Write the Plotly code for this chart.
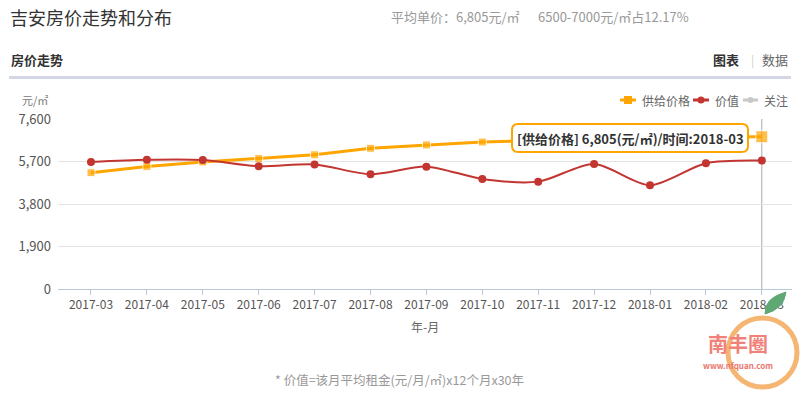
import plotly.graph_objects as go

months = ["2017-03", "2017-04", "2017-05", "2017-06", "2017-07", "2017-08", "2017-09",
          "2017-10", "2017-11", "2017-12", "2018-01", "2018-02", "2018-03"]
supply_price = [5200, 5480, 5680, 5830, 6000, 6290, 6440, 6570, 6650, 6720, 6760, 6790, 6805]
value_price = [5680, 5780, 5770, 5490, 5570, 5130, 5470, 4920, 4800, 5590, 4640, 5620, 5740]
y_ticks = [0, 1900, 3800, 5700, 7600]
series_names = ["供给价格", "价值", "关注"]
series_colors = ["#FFA500", "#C23531", "#C8C8C8"]

W, H = 800, 393
L, R, T, B = 58, 792, 119, 289
FONT = "Noto Sans CJK SC, Noto Sans, sans-serif"


def px(x):
    return (x - L) / (R - L)


def py(y):
    return (B - y) / (B - T)


def rounded_rect(x0, y0, x1, y1, r):
    return (f"M {px(x0 + r)} {py(y0)} L {px(x1 - r)} {py(y0)} Q {px(x1)} {py(y0)} {px(x1)} {py(y0 + r)} "
            f"L {px(x1)} {py(y1 - r)} Q {px(x1)} {py(y1)} {px(x1 - r)} {py(y1)} "
            f"L {px(x0 + r)} {py(y1)} Q {px(x0)} {py(y1)} {px(x0)} {py(y1 - r)} "
            f"L {px(x0)} {py(y0 + r)} Q {px(x0)} {py(y0)} {px(x0 + r)} {py(y0)} Z")


xs = list(range(len(months)))

fig = go.Figure()
fig.add_trace(go.Scatter(
    x=xs, y=supply_price, name=series_names[0], mode="lines+markers",
    line=dict(color=series_colors[0], width=3),
    marker=dict(symbol="square", size=[8] * (len(xs) - 1) + [12], color=series_colors[0]),
))
fig.add_trace(go.Scatter(
    x=xs, y=value_price, name=series_names[1], mode="lines+markers",
    line=dict(color=series_colors[1], width=2, shape="spline", smoothing=0.8),
    marker=dict(symbol="circle", size=8, color=series_colors[1]),
))

shapes = [
    # separator under section header
    dict(type="line", xref="paper", yref="paper", x0=px(9), x1=px(791), y0=py(77.5), y1=py(77.5),
         line=dict(color="#D3D7E3", width=3)),
    # crosshair at last month
    dict(type="line", xref="x", yref="paper", x0=xs[-1], x1=xs[-1], y0=0, y1=1,
         line=dict(color="#AAAAAA", width=1), layer="below"),
    # tooltip box (rounded)
    dict(type="path", xref="paper", yref="paper", path=rounded_rect(512, 124, 748, 152, 6),
         fillcolor="white", line=dict(color="#FFA500", width=2), layer="above"),
    # logo circle
    dict(type="circle", xref="paper", yref="paper", x0=px(728), x1=px(797), y0=py(318), y1=py(387),
         line=dict(color="#F6B673", width=5), layer="above"),
    # leaf
    dict(type="path", xref="paper", yref="paper",
         path=f"M {px(765)} {py(314)} Q {px(764)} {py(298)} {px(786)} {py(292)} Q {px(784)} {py(309)} {px(765)} {py(314)} Z",
         fillcolor="#5FA874", line=dict(color="#5FA874", width=1)),
]

# custom compact legend
legend_items = [(620, 636, 640), (693, 709, 713), (743, 758, 762)]
legend_y = 100
annotations = []
for (lx0, lx1, tx), name, color, sym in zip(legend_items, series_names, series_colors, ["square", "circle", "circle"]):
    shapes.append(dict(type="line", xref="paper", yref="paper", x0=px(lx0), x1=px(lx1),
                       y0=py(legend_y), y1=py(legend_y), line=dict(color=color, width=3)))
    cx = (lx0 + lx1) / 2
    r = 4 if sym == "square" else 3.5
    if name == "关注":
        r = 3
    shapes.append(dict(type="rect" if sym == "square" else "circle", xref="paper", yref="paper",
                       x0=px(cx - r), x1=px(cx + r), y0=py(legend_y + r), y1=py(legend_y - r),
                       fillcolor=color, line=dict(color=color, width=0)))
    annotations.append(dict(text=name, x=px(tx), y=py(legend_y), xref="paper", yref="paper",
                            xanchor="left", yanchor="middle", showarrow=False,
                            font=dict(size=12, color="#666666", family=FONT)))

annotations += [
    dict(text="吉安房价走势和分布", x=px(8), y=py(17), xref="paper", yref="paper", xanchor="left",
         yanchor="middle", showarrow=False, font=dict(size=18, color="#333333", family=FONT)),
    dict(text="平均单价：6,805元/㎡", x=px(389), y=py(17), xref="paper", yref="paper", xanchor="left",
         yanchor="middle", showarrow=False, font=dict(size=13, color="#999999", family=FONT)),
    dict(text="6500-7000元/㎡占12.17%", x=px(536), y=py(17), xref="paper", yref="paper", xanchor="left",
         yanchor="middle", showarrow=False, font=dict(size=13, color="#999999", family=FONT)),
    dict(text="<b>房价走势</b>", x=px(9), y=py(60), xref="paper", yref="paper", xanchor="left",
         yanchor="middle", showarrow=False, font=dict(size=13, color="#333333", family=FONT)),
    dict(text="<b>图表</b>", x=px(741), y=py(60), xref="paper", yref="paper", xanchor="right",
         yanchor="middle", showarrow=False, font=dict(size=13, color="#333333", family=FONT)),
    dict(text="|", x=px(752), y=py(60), xref="paper", yref="paper", xanchor="center",
         yanchor="middle", showarrow=False, font=dict(size=12, color="#CCCCCC", family=FONT)),
    dict(text="数据", x=px(790), y=py(60), xref="paper", yref="paper", xanchor="right",
         yanchor="middle", showarrow=False, font=dict(size=13, color="#666666", family=FONT)),
    dict(text="元/㎡", x=px(50), y=py(100), xref="paper", yref="paper", xanchor="right",
         yanchor="middle", showarrow=False, font=dict(size=11, color="#777777", family=FONT)),
    dict(text="年-月", x=px(425), y=py(326), xref="paper", yref="paper", xanchor="center",
         yanchor="middle", showarrow=False, font=dict(size=12, color="#666666", family=FONT)),
    dict(text="* 价值=该月平均租金(元/月/㎡)x12个月x30年", x=px(399), y=py(379), xref="paper", yref="paper",
         xanchor="center", yanchor="middle", showarrow=False, font=dict(size=12.5, color="#999999", family=FONT)),
    # tooltip text
    dict(text=f"<b>[供给价格] {supply_price[-1]:,}(元/㎡)/时间:{months[-1]}</b>", x=px(630), y=py(138),
         xref="paper", yref="paper", xanchor="center", yanchor="middle", showarrow=False,
         font=dict(size=13, color="#333333", family=FONT)),
    # logo text
    dict(text="<b>南丰圈</b>", x=px(738), y=py(343), xref="paper", yref="paper", xanchor="center",
         yanchor="middle", showarrow=False, font=dict(size=20, color="#F0827A", family=FONT)),
    dict(text="<b>www.nfquan.com</b>", x=px(738), y=py(365), xref="paper", yref="paper", xanchor="center",
         yanchor="middle", showarrow=False, font=dict(size=8, color="#E8776E", family=FONT)),
]

fig.update_layout(
    width=W, height=H,
    margin=dict(l=L, r=W - R, t=T, b=H - B),
    paper_bgcolor="white", plot_bgcolor="white",
    font=dict(family=FONT, size=12, color="#666666"),
    showlegend=False,
    xaxis=dict(
        range=[-0.59, 12.54], tickmode="array", tickvals=xs, ticktext=months,
        showgrid=False, zeroline=False, showline=True, linecolor="#B8C7DA", linewidth=1,
        ticks="outside", ticklen=5, tickcolor="#B8C7DA",
        tickfont=dict(size=12, color="#555555", family=FONT),
    ),
    yaxis=dict(
        range=[0, 7600], tickmode="array", tickvals=y_ticks,
        ticktext=[f"{v:,}" for v in y_ticks],
        showgrid=True, gridcolor="#E3E3E3", gridwidth=1, zeroline=False, showline=False,
        ticks="", ticklabelstandoff=6,
        tickfont=dict(size=13, color="#555555", family=FONT),
    ),
    shapes=shapes,
    annotations=annotations,
)

fig.write_html("out.html", config={"displayModeBar": False},
               post_script="document.body.style.margin='0';document.body.style.padding='0';")
